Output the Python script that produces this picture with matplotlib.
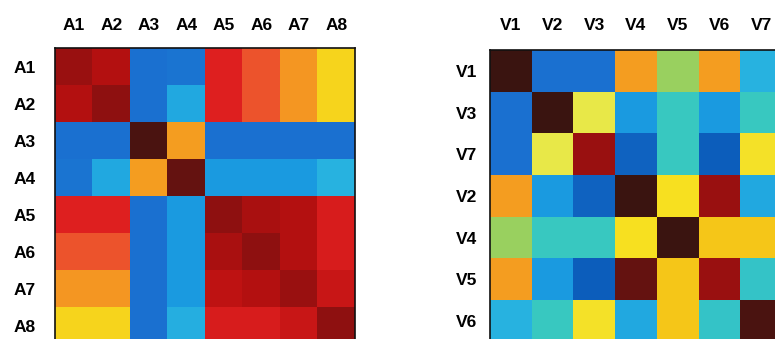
import numpy as np
import matplotlib
matplotlib.use("Agg")
import matplotlib.pyplot as plt
from matplotlib.colors import LinearSegmentedColormap

# ---- data (values on a 0..1 colour scale) ----
a_labels = ["A1", "A2", "A3", "A4", "A5", "A6", "A7", "A8"]
a_values = [
    [0.95, 0.93, 0.20, 0.21, 0.88, 0.83, 0.76, 0.66],
    [0.93, 0.96, 0.20, 0.30, 0.88, 0.83, 0.76, 0.66],
    [0.20, 0.20, 0.99, 0.75, 0.20, 0.20, 0.20, 0.20],
    [0.21, 0.30, 0.75, 0.98, 0.27, 0.27, 0.27, 0.32],
    [0.88, 0.88, 0.20, 0.27, 0.96, 0.94, 0.93, 0.89],
    [0.83, 0.83, 0.20, 0.27, 0.94, 0.96, 0.93, 0.89],
    [0.76, 0.76, 0.20, 0.27, 0.92, 0.93, 0.95, 0.91],
    [0.66, 0.66, 0.20, 0.31, 0.89, 0.89, 0.91, 0.96],
]

v_col_labels = ["V1", "V2", "V3", "V4", "V5", "V6", "V7"]
v_row_labels = ["V1", "V3", "V7", "V2", "V4", "V5", "V6"]
v_values = [
    [1.00, 0.20, 0.20, 0.75, 0.50, 0.75, 0.32],
    [0.20, 1.00, 0.60, 0.27, 0.40, 0.27, 0.40],
    [0.20, 0.60, 0.95, 0.17, 0.40, 0.16, 0.63],
    [0.75, 0.27, 0.17, 1.00, 0.64, 0.95, 0.30],
    [0.50, 0.40, 0.40, 0.64, 1.00, 0.68, 0.68],
    [0.75, 0.27, 0.16, 0.98, 0.68, 0.95, 0.38],
    [0.32, 0.40, 0.63, 0.30, 0.68, 0.38, 0.99],
]

# ---- jet-like colormap with a dark top end ----
anchors = [
    (0.00, "#00207a"), (0.15, "#0a5ab8"), (0.20, "#1a70d0"), (0.27, "#1a9ae0"),
    (0.32, "#28b4e0"), (0.40, "#38c8c0"), (0.50, "#98d060"), (0.60, "#e8e848"),
    (0.64, "#f8e020"), (0.68, "#f5c818"), (0.75, "#f5a020"), (0.82, "#f06030"),
    (0.88, "#e02020"), (0.93, "#b81010"), (0.96, "#901010"), (1.00, "#3a1410"),
]
cmap = LinearSegmentedColormap.from_list("scanjet", anchors)

W, H = 775, 339
fig = plt.figure(figsize=(W / 100, H / 100), dpi=100)

font = dict(family=["Liberation Sans", "DejaVu Sans"], fontsize=12.5, fontweight="bold")

def heat(ax, data, xlabels, ylabels, ypad, xpad):
    ax.imshow(np.array(data), cmap=cmap, vmin=0, vmax=1, aspect="auto",
              interpolation="nearest")
    ax.set_xticks(range(len(xlabels)))
    ax.set_xticklabels(xlabels, **font)
    ax.set_yticks(range(len(ylabels)))
    ax.set_yticklabels(ylabels, **font)
    ax.tick_params(axis="x", top=True, labeltop=True, bottom=False,
                   labelbottom=False, length=0, pad=xpad)
    ax.tick_params(axis="y", length=0, pad=ypad)
    for s in ax.spines.values():
        s.set_linewidth(1.2)
        s.set_color("#111111")

# left matrix: x 55-355 px, top 48 px, 37 px rows
ax1 = fig.add_axes([55 / W, 1 - (48 + 8 * 37) / H, 300 / W, 8 * 37 / H])
heat(ax1, a_values, a_labels, a_labels, ypad=14, xpad=11)

# right matrix: x 490 px, 41.7 px cells, top 50 px
cw = 41.7
ax2 = fig.add_axes([490 / W, 1 - (50 + 7 * cw) / H, 7 * cw / W, 7 * cw / H])
heat(ax2, v_values, v_col_labels, v_row_labels, ypad=9, xpad=12)

fig.savefig("out.png", dpi=100)
